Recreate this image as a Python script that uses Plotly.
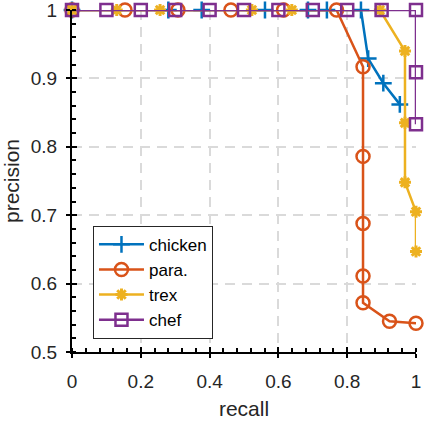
import plotly.graph_objects as go

# ---- data ----
chicken_recall = [0, 0.28, 0.377, 0.561, 0.686, 0.741, 0.84, 0.861, 0.905, 0.953]
chicken_prec = [1, 1, 1, 1, 1, 1, 1, 0.929, 0.893, 0.862]

para_recall = [0, 0.154, 0.308, 0.462, 0.615, 0.769, 0.846, 0.846, 0.846, 0.846, 0.846, 0.923, 1.0]
para_prec = [1, 1, 1, 1, 1, 1, 0.917, 0.786, 0.688, 0.611, 0.572, 0.545, 0.542]

trex_recall = [0, 0.13, 0.256, 0.523, 0.639, 0.895, 0.968, 0.968, 0.968, 1.0, 1.0]
trex_prec = [1, 1, 1, 1, 1, 1, 0.94, 0.835, 0.748, 0.705, 0.647]

chef_recall = [0, 0.1, 0.2, 0.3, 0.4, 0.5, 0.6, 0.7, 0.8, 0.9, 1.0, 1.0, 1.0]
chef_prec = [1, 1, 1, 1, 1, 1, 1, 1, 1, 1, 1, 0.909, 0.833]

x_ticks = [0, 0.2, 0.4, 0.6, 0.8, 1]
x_labels = ["0", "0.2", "0.4", "0.6", "0.8", "1"]
y_ticks = [0.5, 0.6, 0.7, 0.8, 0.9, 1]
y_labels = ["0.5", "0.6", "0.7", "0.8", "0.9", "1"]

series = [
    ("chicken", chicken_recall, chicken_prec, "#0072BD", "cross-thin", 12, 2.5),
    ("para.", para_recall, para_prec, "#D95319", "circle-open", 13, 2.5),
    ("trex", trex_recall, trex_prec, "#EDB120", "asterisk-open", 10, 3),
    ("chef", chef_recall, chef_prec, "#7E2F8E", "square-open", 12, 2.5),
]

FONT = "Liberation Sans, Arial, sans-serif"
TXT = "#262626"

fig = go.Figure()
for name, x, y, col, sym, sz, mw in series:
    fig.add_trace(go.Scatter(
        x=x, y=y, name=name, mode="lines+markers",
        line=dict(color=col, width=2.5),
        marker=dict(symbol=sym, size=sz, color=col, line=dict(color=col, width=mw)),
        cliponaxis=False,
    ))

# invisible trace for the overlay axes (inside major ticks)
fig.add_trace(go.Scatter(x=[0], y=[0.5], xaxis="x2", yaxis="y2", mode="markers",
                         marker=dict(opacity=0), showlegend=False, hoverinfo="skip"))

grid = dict(showgrid=True, gridcolor="#dadada", gridwidth=2, griddash="10px,7px")

fig.update_layout(
    width=427, height=423,
    margin=dict(l=72, r=11, t=10, b=71, autoexpand=False),
    paper_bgcolor="white", plot_bgcolor="white",
    font=dict(family=FONT, size=19, color=TXT),
    showlegend=True,
    legend=dict(
        x=0.061, y=0.369, xanchor="left", yanchor="top",
        bgcolor="white", bordercolor="#262626", borderwidth=1,
        font=dict(family=FONT, size=17, color="black"),
        tracegroupgap=0, itemwidth=45,
    ),
    xaxis=dict(
        range=[0, 1], tickvals=x_ticks, ticktext=x_labels, zeroline=False, automargin=False,
        showline=True, linecolor="black", linewidth=2,
        ticks="outside", ticklen=4, tickwidth=2, tickcolor="black",
        minor=dict(ticks="inside", dtick=0.04, tick0=0, ticklen=4, tickwidth=2, tickcolor="black", showgrid=False),
        tickfont=dict(size=19, color=TXT), ticklabelstandoff=7, ticklabeloverflow="allow",
        title=dict(text="recall", font=dict(size=21, color=TXT), standoff=11),
        **grid,
    ),
    yaxis=dict(
        range=[0.5, 1], tickvals=y_ticks, ticktext=y_labels, zeroline=False, automargin=False,
        showline=True, linecolor="black", linewidth=2,
        ticks="outside", ticklen=4, tickwidth=2, tickcolor="black",
        minor=dict(ticks="inside", dtick=0.02, tick0=0.5, ticklen=4, tickwidth=2, tickcolor="black", showgrid=False),
        tickfont=dict(size=19, color=TXT), ticklabelstandoff=5, ticklabeloverflow="allow",
        title=dict(text="precision", font=dict(size=21, color=TXT), standoff=8),
        **grid,
    ),
    xaxis2=dict(range=[0, 1], tickvals=x_ticks, overlaying="x", anchor="y2", side="bottom",
                automargin=False,
                ticks="inside", ticklen=5, tickwidth=2, tickcolor="black",
                showticklabels=False, showgrid=False, showline=False, zeroline=False),
    yaxis2=dict(range=[0.5, 1], tickvals=y_ticks, overlaying="y", anchor="x2", side="left",
                automargin=False,
                ticks="inside", ticklen=5, tickwidth=2, tickcolor="black",
                showticklabels=False, showgrid=False, showline=False, zeroline=False),
)

fig.write_html("out.html")
